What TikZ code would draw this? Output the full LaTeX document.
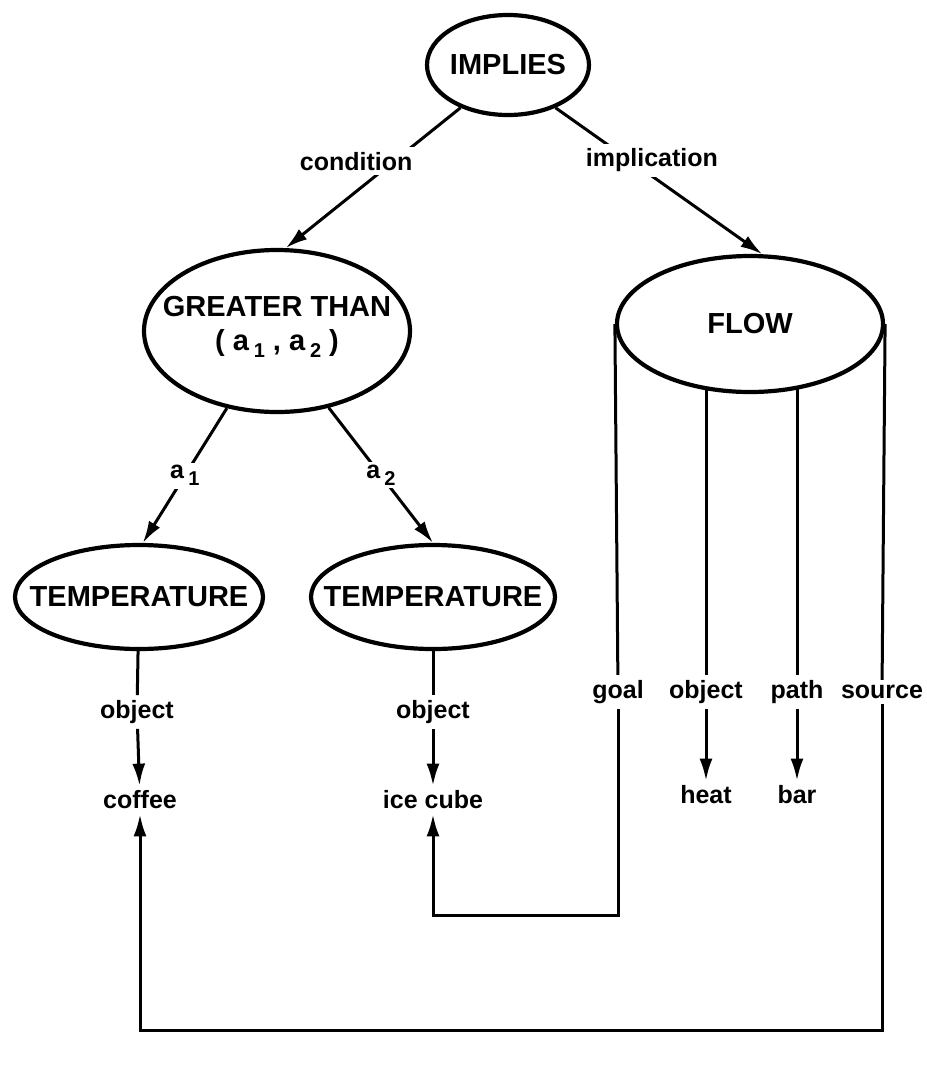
\documentclass[tikz,border=0pt]{standalone}
\usepackage{fontspec}
\setmainfont{Liberation Sans}
\usetikzlibrary{shapes.geometric,arrows.meta,backgrounds}

\newcommand{\conceptfont}{\fontsize{29}{34}\selectfont\bfseries}
\newcommand{\relfont}{\fontsize{25}{28}\selectfont\bfseries}
\newcommand{\sub}[1]{\,\raisebox{-0.5ex}{\fontsize{20}{20}\selectfont #1}}

\tikzset{
	concept/.style={ellipse,draw,line width=4.2pt,fill=white,inner xsep=-30pt,inner ysep=0pt,font=\conceptfont,align=center},
	rel/.style={fill=white,inner sep=5pt,font=\relfont},
	link/.style={line width=3pt},
	arr/.style={line width=3pt,-{Latex[length=22pt,width=13pt]}}
}

\begin{document}
\begin{tikzpicture}[x=1pt,y=-1pt]
\useasboundingbox (0,0) rectangle (927,1072);
%concepts
\node[concept,minimum width=266,minimum height=162] (greater) at (277,331) {GREATER THAN\\( a\sub{1} , a\sub{2} )\\[-18pt]\mbox{}};
\node[concept,minimum width=162,minimum height=100] (implies) at (508,65) {IMPLIES};
\node[concept,minimum width=266,minimum height=136] (flow) at (750,324) {FLOW};
\node[concept,minimum width=248,minimum height=104] (templeft) at (139,597) {TEMPERATURE};
\node[concept,minimum width=244,minimum height=104] (tempright) at (433,597) {TEMPERATURE};
%implies
\draw[arr] (implies.222) -- node[rel,pos=.38,xshift=-38] (cond) {condition} (greater.84);
\draw[arr] (implies.318) -- node[rel,pos=.36,xshift=22] (impl) {implication} (flow.80);
%greater than
\draw[arr] (greater.237) -- node[rel,pos=.5,inner sep=3pt] (aone) {a\sub{1}} (templeft.86);
\draw[arr] (greater.304) -- node[rel,pos=.5,inner sep=3pt] (atwo) {a\sub{2}} (tempright.90);
%temperature
\node[rel] (objleft) at (137,712) {object};
\node[rel] (objright) at (433,712) {object};
\node[rel] (coffee) at (140,800) {coffee};
\node[rel] (icecube) at (433,800) {ice cube};
\draw[link] (templeft) -- (objleft);
\draw[arr] (objleft) -- (coffee);
\draw[link] (tempright) -- (objright);
\draw[arr] (objright) -- (icecube);
%flow
\node[rel] (goal) at (618,692) {goal};
\node[rel] (objflow) at (706,692) {object};
\node[rel] (path) at (797,692) {path};
\node[rel] (source) at (882,692) {source};
\node[rel] (heat) at (706,795) {heat};
\node[rel] (bar) at (797,795) {bar};
\begin{scope}[on background layer]
\draw[link] (flow.west) -- (goal);
\draw[link] (objflow |- flow.center) -- (objflow);
\draw[link] (path |- flow.center) -- (path);
\draw[link] (flow.east) -- (source);
\end{scope}
\draw[arr] (objflow) -- (heat);
\draw[arr] (path) -- (bar);
\draw[arr] (goal) -- (goal |- 0,915) -| (icecube);
\draw[arr] (source) -- (source |- 0,1030) -| (coffee);
\end{tikzpicture}
\end{document}
